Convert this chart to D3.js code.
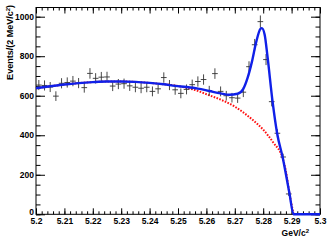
<!DOCTYPE html>
<html>
<head>
<meta charset="utf-8">
<script src="https://cdn.jsdelivr.net/npm/d3@7"></script>
<style>
  body { margin: 0; background: #fff; }
  svg { display: block; font-family: "Liberation Sans", Arial, sans-serif; }
  .axis text { font-weight: bold; font-size: 8.5px; fill: #000; }
  .axis path, .axis line { stroke: #000; stroke-width: 1; }
</style>
</head>
<body>
<svg id="chart" width="332" height="241"></svg>
<script>
"use strict";

// histogram bins (2 MeV) : centre mass and events
const binCentres = [5.201,5.203,5.205,5.207,5.209,5.211,5.213,5.215,5.217,5.219,
  5.221,5.223,5.225,5.227,5.229,5.231,5.233,5.235,5.237,5.239,
  5.241,5.243,5.245,5.247,5.249,5.251,5.253,5.255,5.257,5.259,
  5.261,5.263,5.265,5.267,5.269,5.271,5.273,5.275,5.277,5.279,
  5.281,5.283,5.285,5.287,5.289];
const binCounts = [654,652,644,598,663,667,674,664,641,713,
  688,694,695,649,659,661,650,643,638,643,
  622,635,692,654,630,612,632,656,672,682,
  625,712,622,600,590,588,618,747,858,975,
  783,570,410,290,103];

// total fit (blue)
const fitMass = [5.200,5.205,5.210,5.215,5.220,5.225,5.230,5.235,5.240,5.245,
  5.249,5.253,5.257,5.261,5.265,5.268,5.271,5.273,5.2745,5.276,
  5.2775,5.279,5.2795,5.2805,5.2815,5.2833,5.2849,5.2869,5.2892,5.2907,5.300];
const fitVals = [638,648,657,664,669,672,672,670,665,658,
  650,644,636,624,612,605,610,635,690,770,
  870,938,942,910,800,570,410,285,110,0,0];

// background (red dotted)
const bkgMass = [5.200,5.205,5.210,5.215,5.220,5.225,5.230,5.235,5.240,5.245,
  5.249,5.253,5.256,5.2607,5.2654,5.270,5.2735,5.2766,5.280,5.2836,5.2869,5.288,5.2892,5.2907];
const bkgVals = [638,648,657,664,669,672,672,670,665,658,
  652,640,629,604,578,545,510,474,428,362,282,218,110,0];

const xTickVals = [5.2,5.21,5.22,5.23,5.24,5.25,5.26,5.27,5.28,5.29,5.3];
const xTickLabels = ["5.2","5.21","5.22","5.23","5.24","5.25","5.26","5.27","5.28","5.29","5.3"];
const yTickVals = [0,200,400,600,800,1000];
const yTickLabels = ["0","200","400","600","800","1000"];

const svg = d3.select("#chart");
const padL = 36, padR = 320, padT = 7.5, padB = 214.3;

const x = d3.scaleLinear().domain([5.2, 5.3]).range([padL, padR]);
const y = d3.scaleLinear().domain([0, 1046.5]).range([padB, padT]);

const xMinor = d3.range(0, 51).map(i => 5.2 + i * 0.002);
const yMinor = d3.range(0, 21).map(i => i * 50);

// frame
svg.append("rect")
  .attr("x", padL).attr("y", padT)
  .attr("width", padR - padL).attr("height", padB - padT)
  .attr("fill", "none").attr("stroke", "#000");

function tickSet(axisFn, vals, size, tr, labels) {
  const a = axisFn.tickValues(vals).tickSizeInner(size).tickSizeOuter(0);
  if (labels) a.tickFormat((d, i) => labels[i]).tickPadding(3);
  else a.tickFormat("");
  const g = svg.append("g").attr("class", "axis").attr("transform", tr).call(a);
  g.select(".domain").remove();
  return g;
}

// bottom
tickSet(d3.axisBottom(x), xMinor, -3, `translate(0,${padB})`);
const gx = tickSet(d3.axisBottom(x), xTickVals, -6, `translate(0,${padB})`, xTickLabels);
gx.selectAll("text").attr("y", 4);
// top
tickSet(d3.axisTop(x), xMinor, -3, `translate(0,${padT})`);
tickSet(d3.axisTop(x), xTickVals, -6, `translate(0,${padT})`);
// left
tickSet(d3.axisLeft(y), yMinor, -4.5, `translate(${padL},0)`);
const gy = tickSet(d3.axisLeft(y), yTickVals, -9, `translate(${padL},0)`, yTickLabels);
gy.selectAll("text").attr("x", -2);
gy.selectAll("text").filter((d, i) => i === 0).attr("dy", "0.05em");
// right
tickSet(d3.axisRight(y), yMinor, -4.5, `translate(${padR},0)`);
tickSet(d3.axisRight(y), yTickVals, -9, `translate(${padR},0)`);

// background curve
const line = d3.line().curve(d3.curveMonotoneX);
svg.append("path")
  .attr("d", line(bkgMass.map((m, i) => [x(m), y(bkgVals[i])])))
  .attr("fill", "none").attr("stroke", "#ff1010")
  .attr("stroke-width", 2).attr("stroke-dasharray", "1.6,1.4");

// data crosses
const half = (x(5.202) - x(5.2)) / 2;
const pts = svg.append("g").attr("stroke", "#333").attr("stroke-width", 0.9);
binCentres.forEach((m, i) => {
  const n = binCounts[i], e = Math.sqrt(n);
  pts.append("line").attr("x1", x(m) - half).attr("x2", x(m) + half)
    .attr("y1", y(n)).attr("y2", y(n));
  pts.append("line").attr("x1", x(m)).attr("x2", x(m))
    .attr("y1", y(n - e)).attr("y2", y(n + e));
});

// total fit
svg.append("path")
  .attr("d", line(fitMass.map((m, i) => [x(m), y(fitVals[i])])))
  .attr("fill", "none").attr("stroke", "#1020e8")
  .attr("stroke-width", 2.4).attr("stroke-linejoin", "round");

// axis titles
svg.append("text")
  .attr("x", 309).attr("y", 236)
  .attr("text-anchor", "end")
  .attr("font-weight", "bold").attr("font-size", 8.5)
  .html('GeV/c<tspan dy="-3.5" font-size="6">2</tspan>');

svg.append("text")
  .attr("transform", "translate(13,5) rotate(-90)")
  .attr("text-anchor", "end")
  .attr("font-weight", "bold").attr("font-size", 9)
  .html('Events/(2 MeV/c<tspan dy="-3.5" font-size="6">2</tspan><tspan dy="3.5">)</tspan>');
</script>
</body>
</html>
